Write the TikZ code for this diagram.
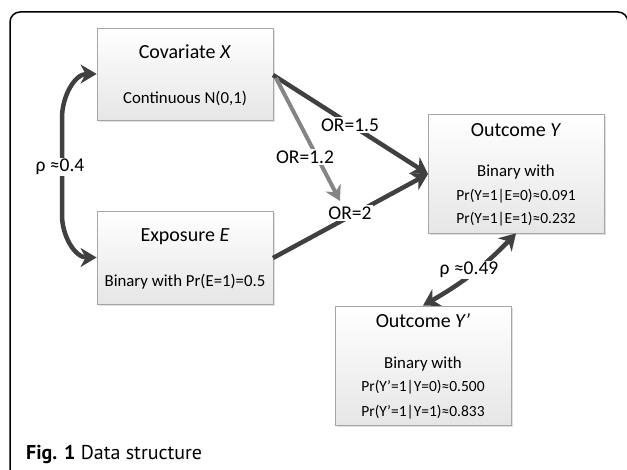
\documentclass[tikz,border=0pt]{standalone}
\usepackage{fontspec}
\setmainfont{Carlito}
\newfontfamily\capfont{PT Sans}
\usetikzlibrary{arrows.meta,shadows}
\definecolor{arr}{HTML}{404040}
\definecolor{garr}{HTML}{858585}
\definecolor{boxline}{HTML}{A6A6A6}
\definecolor{boxbot}{HTML}{E6E6E6}
\tikzset{
  varbox/.style={draw=boxline, line width=0.8pt, top color=white, bottom color=boxbot,
    minimum width=176pt, inner sep=0pt,
    drop shadow={shadow xshift=2pt, shadow yshift=-2pt, fill=black, opacity=0.12}},
  ttl/.style={font=\fontsize{20}{22}\selectfont, inner sep=0pt},
  sub/.style={font=\fontsize{16.8}{18}\selectfont, inner sep=0pt},
  prl/.style={font=\fontsize{15.5}{17}\selectfont, inner sep=0pt},
  lbl/.style={font=\fontsize{19.5}{21}\selectfont, fill=white, inner sep=1.5pt},
  darr/.style={draw=arr, line width=4.5pt, -{Stealth[length=16pt,width=19pt,inset=5pt]}},
  dboth/.style={draw=arr, line width=4.5pt, {Stealth[length=16pt,width=19pt,inset=5pt]}-{Stealth[length=16pt,width=19pt,inset=5pt]}},
  garrow/.style={draw=garr, line width=4pt, -{Stealth[length=15pt,width=17pt,inset=5pt]}},
}
\begin{document}
\begin{tikzpicture}[x=1pt,y=-1pt]
\useasboundingbox (0,0) rectangle (627,470);
% frame
\draw[line width=1.5pt, rounded corners=10pt] (10,480) -- (10,12) -- (628,12) -- (628,480);
% boxes
\node[varbox, minimum height=92pt] (X) at (185,74) {};
\node[varbox, minimum height=93pt] (E) at (185,257.5) {};
\node[varbox, minimum height=119pt] (Y) at (516,173.5) {};
\node[varbox, minimum height=119pt] (Yp) at (423,365.5) {};
% box texts
\node[ttl] (Xt) at (185,52) {Covariate \textit{X}};
\node[sub] (Xs) at (185,99) {Continuous N(0,1)};
\node[ttl] (Et) at (185,237) {Exposure \textit{E}};
\node[sub] (Es) at (185,282) {Binary with Pr(E=1)=0.5};
\node[ttl] (Yt) at (516,130) {Outcome \textit{Y}};
\node[sub] (Ys1) at (516,172) {Binary with};
\node[prl] (Ys2) at (516,196) {Pr(Y=1|E=0)≈0.091};
\node[prl] (Ys3) at (516,219) {Pr(Y=1|E=1)≈0.232};
\node[ttl] (Ypt) at (423,321) {Outcome \textit{Y’}};
\node[sub] (Yps1) at (423,364) {Binary with};
\node[prl] (Yps2) at (423,387) {Pr(Y’=1|Y=0)≈0.500};
\node[prl] (Yps3) at (423,412) {Pr(Y’=1|Y=1)≈0.833};
% connectors
\coordinate (m) at (340,201);
\coordinate (yin) at (428,174);
\draw[darr] (273,75) -- (yin);
\draw[darr] (273,258) -- (yin);
\draw[garrow] (276,78) -- (m);
\draw[dboth] (X.west) to[out=180,in=90] (62,118) -- (62,215) to[out=-90,in=180] (E.west);
\draw[dboth] (Y.south) to[bend left=8] (Yp.north);
% labels
\node[lbl] (l15) at (350,125) {OR=1.5};
\node[lbl] (l12) at (305,157) {OR=1.2};
\node[lbl] (l2) at (350,213) {OR=2};
\node[lbl] (r1) at (60,167) {ρ ≈0.4};
\node[lbl] (r2) at (469,270) {ρ ≈0.49};
% caption
\node[anchor=base west, inner sep=0pt, font=\capfont\fontsize{20}{22}\selectfont] (cap) at (26,460) {\textbf{Fig. 1} Data structure};
\end{tikzpicture}
\end{document}
